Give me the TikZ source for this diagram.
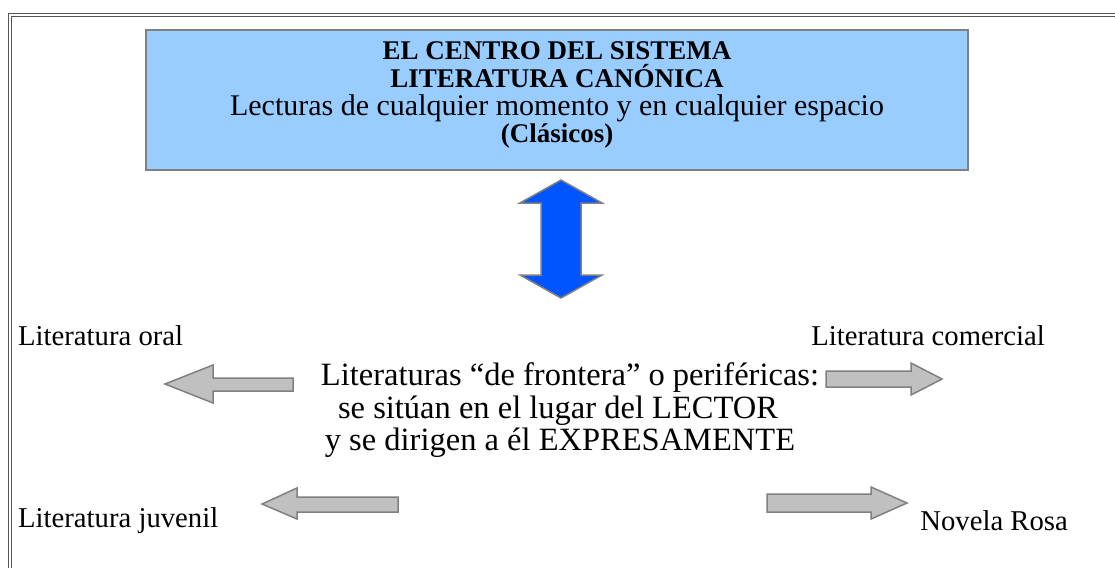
\documentclass[tikz,border=0pt]{standalone}
\usepackage{fontspec}
\setmainfont{Liberation Serif}
\definecolor{boxblue}{RGB}{153,204,255}
\definecolor{arrblue}{RGB}{0,85,255}
\definecolor{arrgray}{RGB}{192,192,192}
\definecolor{edgegray}{RGB}{128,128,128}
\definecolor{framegray}{RGB}{85,85,85}
\tikzset{
  titletxt/.style={inner sep=0pt, font=\fontsize{27}{30}\selectfont\bfseries},
  txt/.style={inner sep=0pt, font=\fontsize{30}{34}\selectfont},
  sidetxt/.style={inner sep=0pt, font=\fontsize{28.7}{32}\selectfont},
  midtxt/.style={inner sep=0pt, font=\fontsize{32.5}{36}\selectfont},
  blockarrow/.style={fill=arrgray, draw=edgegray, line width=1.5pt, line join=miter},
  framebox/.style={draw=framegray, line width=1.2pt}
}
\begin{document}
\begin{tikzpicture}[x=1pt,y=-1pt]
\useasboundingbox (0,0) rectangle (1115,567);
% outer frame
\draw[framebox] (8.5,580) -- (8.5,13.5) -- (1125,13.5);
\draw[framebox] (11.5,580) -- (11.5,16.7) -- (1125,16.7);
% top box
\draw[fill=boxblue, draw=edgegray, line width=2pt] (146,30) rectangle (968,170);
\node[titletxt, anchor=base] (t1) at (557,60) {EL CENTRO DEL SISTEMA};
\node[titletxt, anchor=base] (t2) at (557,88) {LITERATURA CANÓNICA};
\node[txt, anchor=base] (t3) at (557,116) {Lecturas de cualquier momento y en cualquier espacio};
\node[titletxt, anchor=base] (t4) at (557,142) {(Clásicos)};
% blue double arrow
\draw[fill=arrblue, draw=edgegray, line width=1.5pt, line join=miter]
  (561,180) -- (602,203) -- (581,203) -- (581,275) -- (602,275) -- (561,298)
  -- (520,275) -- (541,275) -- (541,203) -- (520,203) -- cycle;
% side labels
\node[sidetxt, anchor=west] (oral) at (18,336) {Literatura oral};
\node[sidetxt, anchor=east] (com) at (1045,336) {Literatura comercial};
\node[sidetxt, anchor=west] (juv) at (18,521) {Literatura juvenil};
\node[sidetxt, anchor=east] (rosa) at (1068,521) {Novela Rosa};
% middle text
\node[midtxt] (m1) at (570,378) {Literaturas “de frontera” o periféricas:};
\node[midtxt] (m2) at (558,411) {se sitúan en el lugar del LECTOR};
\node[midtxt] (m3) at (560,443) {y se dirigen a él EXPRESAMENTE};
% gray arrows
\draw[blockarrow] (165,384) -- (213,365) -- (213,378) -- (293,378) -- (293,391) -- (213,391) -- (213,403) -- cycle;
\draw[blockarrow] (942,379) -- (911,363) -- (911,371) -- (826,371) -- (826,387) -- (911,387) -- (911,395) -- cycle;
\draw[blockarrow] (262,504) -- (297,488) -- (297,497) -- (398,497) -- (398,512) -- (297,512) -- (297,519) -- cycle;
\draw[blockarrow] (907,503) -- (871,487) -- (871,494) -- (767,494) -- (767,512) -- (871,512) -- (871,519) -- cycle;
\end{tikzpicture}
\end{document}
